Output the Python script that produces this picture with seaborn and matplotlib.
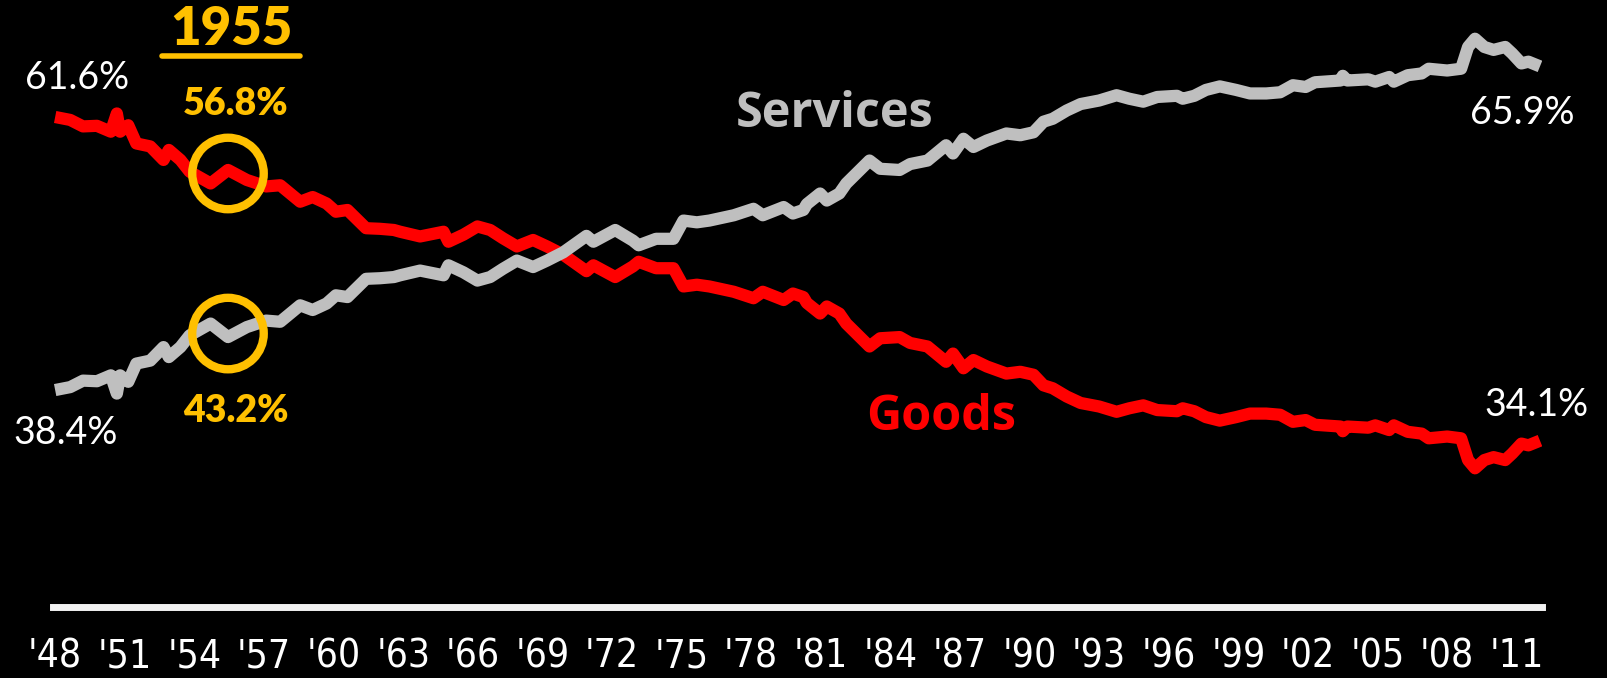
import pandas as pd
import seaborn as sns
import matplotlib.pyplot as plt
from matplotlib import font_manager
from matplotlib.lines import Line2D

# ----------------------------
# DATA (share of consumer spending, %)
# ----------------------------
years = [1948.0, 1948.65, 1949.2, 1949.8, 1950.4, 1950.66, 1950.8, 1951.15, 1951.5, 1952.1,
         1952.67, 1952.9, 1953.4, 1953.8, 1954.7, 1955.45, 1956.26, 1957.1, 1957.7, 1958.56,
         1959.1, 1959.7, 1960.1, 1960.6, 1961.4, 1962.0, 1962.6, 1962.87, 1963.73, 1964.74,
         1964.95, 1965.6, 1966.2, 1966.75, 1967.3, 1967.9, 1968.6, 1969.2, 1969.9, 1970.9,
         1971.2, 1972.14, 1972.9, 1973.15, 1973.9, 1974.65, 1975.08, 1975.66, 1976.2, 1977.25,
         1978.1, 1978.5, 1979.4, 1979.8, 1980.25, 1980.4, 1980.97, 1981.26, 1981.8, 1982.1,
         1983.1, 1983.56, 1984.4, 1984.85, 1985.6, 1986.4, 1986.7, 1987.15, 1987.58, 1988.16,
         1989.0, 1989.6, 1990.17, 1990.6, 1991.0, 1991.6, 1992.2, 1993.0, 1993.75, 1994.3,
         1994.9, 1995.5, 1996.35, 1996.6, 1997.1, 1997.6, 1998.2, 1998.9, 1999.5, 2000.2,
         2000.8, 2001.35, 2001.9, 2002.3, 2003.4, 2003.5, 2003.7, 2004.6, 2004.9, 2005.5,
         2005.7, 2006.3, 2006.9, 2007.2, 2008.0, 2008.6, 2008.9, 2009.2, 2009.6, 2010.0,
         2010.5, 2010.8, 2011.2, 2011.5, 2012.0]

goods = [61.6, 61.35, 60.8, 60.85, 60.35, 61.9, 60.35, 60.9, 59.35, 59.1,
         57.95, 58.8, 57.95, 56.95, 55.95, 57.1, 56.25, 55.7, 55.8, 54.4,
         54.8, 54.25, 53.55, 53.7, 52.15, 52.1, 52.0, 51.85, 51.45, 51.85,
         51.0, 51.6, 52.3, 52.0, 51.3, 50.6, 51.15, 50.6, 49.9, 48.5,
         49.0, 48.0, 48.9, 49.3, 48.75, 48.75, 47.2, 47.35, 47.2, 46.75,
         46.2, 46.75, 46.05, 46.6, 46.3, 45.8, 44.9, 45.5, 44.9, 44.05,
         42.1, 42.8, 42.9, 42.4, 42.1, 40.8, 41.5, 40.25, 40.95, 40.4,
         39.8, 39.95, 39.7, 38.8, 38.55, 37.85, 37.3, 37.0, 36.55, 36.85,
         37.1, 36.7, 36.6, 36.85, 36.6, 36.1, 35.8, 36.1, 36.4, 36.4,
         36.3, 35.7, 35.85, 35.45, 35.3, 34.9, 35.3, 35.2, 35.4, 35.0,
         35.4, 34.85, 34.7, 34.3, 34.45, 34.3, 32.45, 31.75, 32.45, 32.7,
         32.45, 33.0, 33.85, 33.7, 34.1]

services = [38.4, 38.65, 39.2, 39.15, 39.65, 38.1, 39.65, 39.1, 40.65, 40.9,
            42.05, 41.2, 42.05, 43.05, 44.05, 42.9, 43.75, 44.3, 44.2, 45.6,
            45.2, 45.75, 46.45, 46.3, 47.85, 47.9, 48.0, 48.15, 48.55, 48.15,
            49.0, 48.4, 47.7, 48.0, 48.7, 49.4, 48.85, 49.4, 50.1, 51.5,
            51.0, 52.0, 51.1, 50.7, 51.25, 51.25, 52.8, 52.65, 52.8, 53.25,
            53.8, 53.25, 53.95, 53.4, 53.7, 54.2, 55.1, 54.5, 55.1, 55.95,
            57.9, 57.2, 57.1, 57.6, 57.9, 59.2, 58.5, 59.75, 59.05, 59.6,
            60.2, 60.05, 60.3, 61.2, 61.45, 62.15, 62.7, 63.0, 63.45, 63.15,
            62.9, 63.3, 63.4, 63.15, 63.4, 63.9, 64.2, 63.9, 63.6, 63.6,
            63.7, 64.3, 64.15, 64.55, 64.7, 65.1, 64.7, 64.8, 64.6, 65.0,
            64.6, 65.15, 65.3, 65.7, 65.55, 65.7, 67.55, 68.25, 67.55, 67.3,
            67.55, 67.0, 66.15, 66.3, 65.9]

tick_years = list(range(1948, 2012, 3))
tick_labels = [f"'{y % 100:02d}" for y in tick_years]

highlight_year = 1955.45
highlight_goods = 56.8
highlight_services = 43.2

RED = "#FF0000"
GRAY = "#BFBFBF"
GOLD = "#FFC000"

# ----------------------------
# FONTS: look for a narrow face for the year ticks
# ----------------------------
narrow = None
for f in font_manager.fontManager.ttflist:
    if f.style != "normal" or f.weight not in (400, "normal", "regular", "book"):
        continue
    if "Narrow" in f.name or "Condensed" in f.name or "condensed" in str(f.stretch):
        narrow = (f.name, f.stretch)
        break
if narrow:
    tick_font = dict(family=[narrow[0], "DejaVu Sans"], fontstretch=narrow[1], fontsize=28)
else:
    tick_font = dict(family=["Lato", "DejaVu Sans"], fontsize=25)

# ----------------------------
# PLOT
# ----------------------------
df = pd.DataFrame({
    "year": years * 2,
    "share": goods + services,
    "series": ["Goods"] * len(years) + ["Services"] * len(years),
})

sns.set_style("dark")
plt.rcParams["font.family"] = ["Lato", "DejaVu Sans"]

fig = plt.figure(figsize=(16.08, 6.78), dpi=100, facecolor="black")
ax = fig.add_axes([0.033, 0.1053, 0.926, 0.8947])
ax.set_facecolor("black")

sns.lineplot(data=df, x="year", y="share", hue="series", estimator=None,
             palette={"Goods": RED, "Services": GRAY}, linewidth=8.8,
             legend=False, ax=ax, solid_capstyle="butt")

# 1955 circles
ax.scatter([highlight_year, highlight_year], [highlight_goods, highlight_services],
           s=2650, facecolors="none", edgecolors=GOLD, linewidths=6, zorder=5)

ax.set_xlim(1947.91, 2012.09)
ax.set_ylim(20, 71.54)
ax.set_xticks(tick_years)
ax.set_xticklabels(tick_labels, **tick_font)
ax.tick_params(axis="x", colors="white", length=0, pad=22)
ax.set_yticks([])
ax.set_xlabel("")
ax.set_ylabel("")
ax.grid(False)
for side in ["top", "left", "right"]:
    ax.spines[side].set_visible(False)
ax.spines["bottom"].set_color("#F2F2F2")
ax.spines["bottom"].set_linewidth(5)

# labels
ax.text(1948.95, 64.9, "61.6%", color="white", fontsize=27, ha="center", va="center")
ax.text(1948.47, 34.75, "38.4%", color="white", fontsize=27, ha="center", va="center")
ax.text(2011.23, 61.95, "65.9%", color="white", fontsize=27, ha="center", va="center")
ax.text(2011.83, 37.15, "34.1%", color="white", fontsize=27, ha="center", va="center")
ax.text(1955.76, 62.7, "56.8%", color=GOLD, fontsize=27, fontweight="heavy",
        ha="center", va="center")
ax.text(1955.8, 36.6, "43.2%", color=GOLD, fontsize=27, fontweight="heavy",
        ha="center", va="center")
yr = ax.text(1955.59, 69.0, "1955", color=GOLD, fontsize=38, fontweight="heavy",
             ha="center", va="center")
ax.text(1981.58, 61.85, "Services", color=GRAY, fontsize=35, fontweight="bold",
        family=["Open Sans", "DejaVu Sans"], ha="center", va="center")
ax.text(1986.19, 36.1, "Goods", color=RED, fontsize=35, fontweight="bold",
        family=["Open Sans", "DejaVu Sans"], ha="center", va="center")

# underline under "1955"
fig.canvas.draw()
bb = yr.get_window_extent().transformed(fig.transFigure.inverted())
pad_x = 8 / 1608
fig.add_artist(Line2D([bb.x0 - pad_x, bb.x1 + pad_x], [bb.y0 - 2 / 678] * 2,
                      color=GOLD, linewidth=4, transform=fig.transFigure))

fig.savefig("out.png", dpi=100, facecolor="black")
plt.close()
